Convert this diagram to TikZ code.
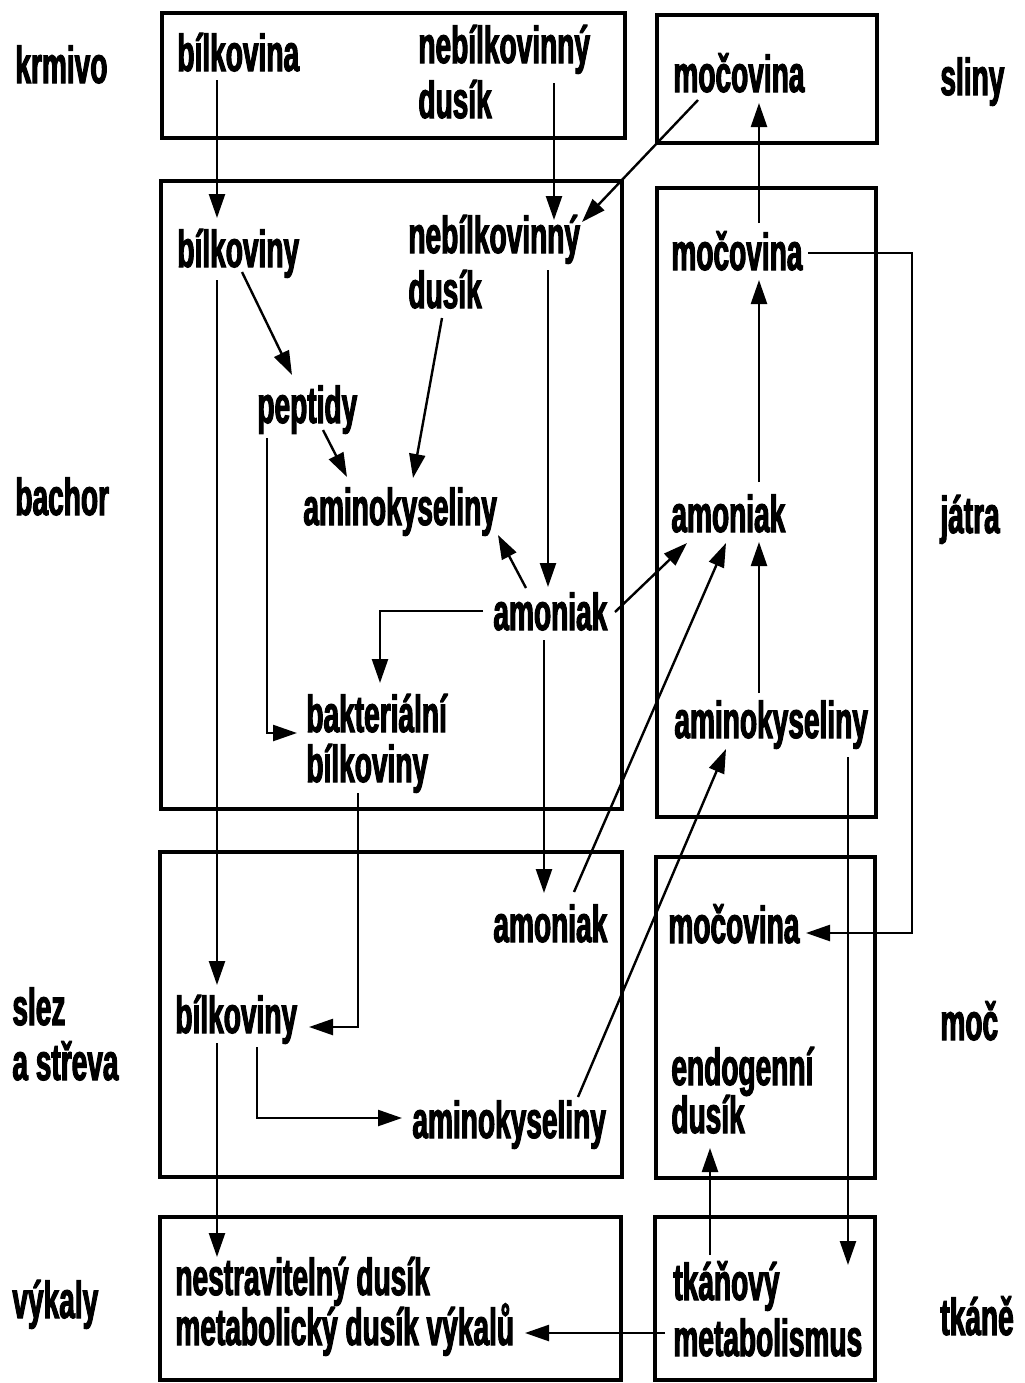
\documentclass[tikz,border=0pt]{standalone}
\usepackage{fontspec}
\usetikzlibrary{arrows.meta}
\newfontfamily\cf{Liberation Sans Bold}[FakeStretch=0.54,FakeBold=2]
\begin{document}
\begin{tikzpicture}[x=0.5pt,y=-0.5pt,
  tx/.style={anchor=base west,inner sep=0pt,font=\cf\fontsize{26}{28}\selectfont},
  box/.style={draw,line width=1.9pt},
  arr/.style={line width=1.2pt,-{Triangle[length=12pt,width=8pt]}},
  ln/.style={line width=1.2pt}]
\useasboundingbox[fill=white] (0,0) rectangle (1024,1383);
% boxes
\draw[box] (162,13) rectangle (625,138);
\draw[box] (657,15) rectangle (877,143);
\draw[box] (161,181) rectangle (622,809);
\draw[box] (657,188) rectangle (876,817);
\draw[box] (160,852) rectangle (622,1177);
\draw[box] (656,857) rectangle (875,1178);
\draw[box] (160,1217) rectangle (621,1380);
\draw[box] (655,1217) rectangle (875,1380);
% side labels
\node[tx] (lkrm) at (15,83) {krmivo};
\node[tx] (lbach) at (15,515) {bachor};
\node[tx] (lslez) at (12,1025) {slez};
\node[tx] (lstr) at (12,1080) {a střeva};
\node[tx] (lvyk) at (12,1318) {výkaly};
\node[tx] (rsli) at (940,95) {sliny};
\node[tx] (rjat) at (940,533) {játra};
\node[tx] (rmoc) at (940,1040) {moč};
\node[tx] (rtk) at (940,1335) {tkáně};
% krmivo
\node[tx] (k1) at (177,71) {bílkovina};
\node[tx] (k2a) at (418,63) {nebílkovinný};
\node[tx] (k2b) at (418,118) {dusík};
% sliny
\node[tx] (s1) at (673,92) {močovina};
% bachor
\node[tx] (b1) at (177,267) {bílkoviny};
\node[tx] (b2a) at (408,253) {nebílkovinný};
\node[tx] (b2b) at (408,308) {dusík};
\node[tx] (b3) at (257,423) {peptidy};
\node[tx] (b4) at (303,525) {aminokyseliny};
\node[tx] (b5) at (493,630) {amoniak};
\node[tx] (b6a) at (306,732) {bakteriální};
\node[tx] (b6b) at (306,782) {bílkoviny};
% jatra
\node[tx] (j1) at (671,270) {močovina};
\node[tx] (j2) at (671,532) {amoniak};
\node[tx] (j3) at (674,738) {aminokyseliny};
% slez a streva
\node[tx] (z1) at (493,942) {amoniak};
\node[tx] (z2) at (175,1033) {bílkoviny};
\node[tx] (z3) at (412,1138) {aminokyseliny};
% moc
\node[tx] (m1) at (668,943) {močovina};
\node[tx] (m2a) at (671,1085) {endogenní};
\node[tx] (m2b) at (671,1133) {dusík};
% vykaly
\node[tx] (v1a) at (175,1295) {nestravitelný dusík};
\node[tx] (v1b) at (175,1345) {metabolický dusík výkalů};
% tkane
\node[tx] (t1a) at (673,1300) {tkáňový};
\node[tx] (t1b) at (673,1356) {metabolismus};
% connector end points
\coordinate (k1o) at (217,80);   \coordinate (b1i) at (217,218);
\coordinate (k2o) at (554,83);   \coordinate (b2i) at (554,220);
\coordinate (s1o) at (698,100);  \coordinate (b2j) at (582,222);
\coordinate (b1o) at (217,280);  \coordinate (z2i) at (217,985);
\coordinate (b1p) at (242,272);  \coordinate (b3i) at (292,375);
\coordinate (b2o) at (442,318);  \coordinate (b4i) at (413,478);
\coordinate (b3o) at (323,430);  \coordinate (b4j) at (347,477);
\coordinate (b2p) at (548,270);  \coordinate (b5i) at (548,587);
\coordinate (b5o) at (526,588);  \coordinate (b4k) at (498,535);
\coordinate (b5p) at (483,611);  \coordinate (b6i) at (380,683);
\coordinate (b3p) at (267,438);  \coordinate (b6j) at (297,733);
\coordinate (b5q) at (615,612);  \coordinate (j2i) at (687,543);
\coordinate (b5r) at (544,640);  \coordinate (z1i) at (544,893);
\coordinate (b6o) at (358,793);  \coordinate (z2j) at (309,1027);
\coordinate (z1o) at (574,892);  \coordinate (j2j) at (726,543);
\coordinate (z3o) at (578,1097); \coordinate (j3i) at (726,749);
\coordinate (z2o) at (257,1047); \coordinate (z3i) at (402,1118);
\coordinate (z2p) at (217,1043); \coordinate (v1i) at (217,1257);
\coordinate (j2o) at (759,482);  \coordinate (j1i) at (759,280);
\coordinate (j1o) at (759,223);  \coordinate (s1i) at (759,103);
\coordinate (j3o) at (759,693);  \coordinate (j2k) at (759,542);
\coordinate (j1p) at (808,253);  \coordinate (m1i) at (806,933);
\coordinate (ur) at (912,0);
\coordinate (j3p) at (848,757);  \coordinate (t1i) at (848,1265);
\coordinate (t1o) at (710,1255); \coordinate (m2i) at (710,1148);
\coordinate (t1p) at (665,1333); \coordinate (v1j) at (525,1333);
% connectors
\draw[arr] (k1o) -- (b1i);
\draw[arr] (k2o) -- (b2i);
\draw[arr] (s1o) -- (b2j);
\draw[arr] (b1o) -- (z2i);
\draw[arr] (b1p) -- (b3i);
\draw[arr] (b2o) -- (b4i);
\draw[arr] (b3o) -- (b4j);
\draw[arr] (b2p) -- (b5i);
\draw[arr] (b5o) -- (b4k);
\draw[arr] (b5p) -| (b6i);
\draw[arr] (b3p) |- (b6j);
\draw[arr] (b5q) -- (j2i);
\draw[arr] (b5r) -- (z1i);
\draw[arr] (b6o) |- (z2j);
\draw[arr] (z1o) -- (j2j);
\draw[arr] (z3o) -- (j3i);
\draw[arr] (z2o) |- (z3i);
\draw[arr] (z2p) -- (v1i);
\draw[arr] (j2o) -- (j1i);
\draw[arr] (j1o) -- (s1i);
\draw[arr] (j3o) -- (j2k);
\draw[arr] (j1p) -- (j1p -| ur) -- (m1i -| ur) -- (m1i);
\draw[arr] (j3p) -- (t1i);
\draw[arr] (t1o) -- (m2i);
\draw[arr] (t1p) -- (v1j);
\end{tikzpicture}
\end{document}
